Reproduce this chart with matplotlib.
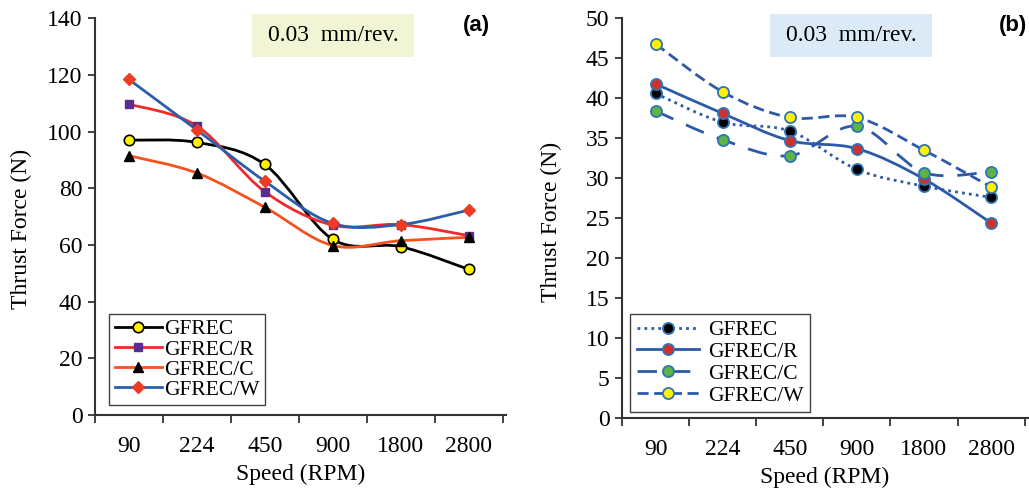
import numpy as np
import matplotlib
matplotlib.use("Agg")
import matplotlib.pyplot as plt
from matplotlib.path import Path
from matplotlib.patches import PathPatch, Rectangle
from matplotlib.lines import Line2D

plt.rcParams["font.family"] = ["Liberation Serif", "DejaVu Serif"]

speeds = ["90", "224", "450", "900", "1800", "2800"]
labels = ["GFREC", "GFREC/R", "GFREC/C", "GFREC/W"]

# panel (a) thrust force values
a_gfrec = [97.0, 96.2, 88.4, 62.0, 59.4, 51.4]
a_gfrec_r = [109.7, 102.0, 78.8, 67.0, 67.2, 63.3]
a_gfrec_c = [91.5, 85.4, 73.3, 59.8, 61.5, 62.7]
a_gfrec_w = [118.4, 100.6, 82.5, 67.6, 67.2, 72.3]

# panel (b) thrust force values
b_gfrec = [40.6, 37.0, 35.9, 31.1, 29.0, 27.6]
b_gfrec_r = [41.8, 38.1, 34.7, 33.7, 29.9, 24.4]
b_gfrec_c = [38.4, 34.8, 32.8, 36.5, 30.7, 30.8]
b_gfrec_w = [46.8, 40.8, 37.6, 37.6, 33.5, 28.9]

FS = 17
LFS = 15.5


def smooth_path(x, y):
    # Excel-style smoothed line: cubic bezier through the points
    pts = np.column_stack([x, y]).astype(float)
    n = len(pts)
    verts = [pts[0]]
    codes = [Path.MOVETO]
    for i in range(n - 1):
        p0 = pts[i - 1] if i > 0 else pts[i]
        p1 = pts[i]
        p2 = pts[i + 1]
        p3 = pts[i + 2] if i + 2 < n else pts[i + 1]
        c1 = p1 + (p2 - p0) / 6.0
        c2 = p2 - (p3 - p1) / 6.0
        verts += [c1, c2, p2]
        codes += [Path.CURVE4] * 3
    return Path(verts, codes)


def draw_series(ax, y, color, ls, lw, marker, mfc, mec, ms, mew):
    x = np.arange(len(y)) + 0.5
    patch = PathPatch(smooth_path(x, y), facecolor="none", edgecolor=color,
                      linewidth=lw, linestyle=ls, capstyle="butt", zorder=2)
    ax.add_patch(patch)
    ax.plot(x, y, linestyle="none", marker=marker, markerfacecolor=mfc,
            markeredgecolor=mec, markersize=ms, markeredgewidth=mew, zorder=3)
    return Line2D([], [], color=color, linestyle=ls, linewidth=lw, marker=marker,
                  markerfacecolor=mfc, markeredgecolor=mec, markersize=ms,
                  markeredgewidth=mew)


def style_axes(ax, ymax, ystep):
    n = len(speeds)
    ax.set_xlim(0, n + 0.05)
    ax.set_ylim(0, ymax)
    ax.set_yticks(np.arange(0, ymax + 0.1, ystep))
    ax.set_xticks(np.arange(0, n + 1))
    ax.set_xticklabels([])
    ax.set_xticks(np.arange(n) + 0.5, minor=True)
    ax.set_xticklabels(speeds, minor=True)
    ax.tick_params(axis="x", which="major", direction="out", length=6,
                   width=1.3, color="#333333")
    ax.tick_params(axis="x", which="minor", length=0, pad=15, labelsize=FS)
    ax.tick_params(axis="y", direction="out", length=5, width=1.3,
                   color="#333333", pad=4, labelsize=FS)
    for s in ["top", "right"]:
        ax.spines[s].set_visible(False)
    for s in ["left", "bottom"]:
        ax.spines[s].set_linewidth(1.5)
        ax.spines[s].set_color("#333333")
    ax.set_xlabel("Speed (RPM)", fontsize=FS)
    ax.set_ylabel("Thrust Force (N)", fontsize=FS)
    ax.xaxis.set_label_coords(0.5, -0.122)


def note_box(ax, x0, x1, color):
    ax.add_patch(Rectangle((x0, 0.902), x1 - x0, 0.108, transform=ax.transAxes,
                           facecolor=color, edgecolor="none", clip_on=False,
                           zorder=1))
    ax.text((x0 + x1) / 2, 0.956, "0.03  mm/rev.", transform=ax.transAxes,
            ha="center", va="center", fontsize=FS, zorder=4)


fig = plt.figure(figsize=(10.29, 4.91), dpi=100)

# ---- panel (a)
ax1 = fig.add_axes([0.0923, 0.1548, 0.3994, 0.808])
style_axes(ax1, 140, 20)
h1 = [
    draw_series(ax1, a_gfrec, "black", "-", 2.0, "o", "#FFF200", "black", 7.5, 1.2),
    draw_series(ax1, a_gfrec_r, "#EE2A2A", "-", 2.0, "s", "#5B2D90", "#5B2D90", 6, 1),
    draw_series(ax1, a_gfrec_c, "#F4521E", "-", 2.0, "^", "black", "black", 7, 1),
    draw_series(ax1, a_gfrec_w, "#2B5DAA", "-", 2.0, "D", "#EE3B24", "#EE3B24", 6, 1),
]
ax1.yaxis.set_label_coords(-0.153, 0.47)
note_box(ax1, 0.382, 0.776, "#F2F4D6")
leg1 = ax1.legend(h1, labels, loc="lower left", bbox_to_anchor=(0.035, 0.025),
                  fontsize=LFS, handlelength=2.2, handletextpad=0.1,
                  labelspacing=0.0, borderpad=0.25, fancybox=False,
                  framealpha=1, edgecolor="#404040", borderaxespad=0)
leg1.get_frame().set_linewidth(1.0)

# ---- panel (b)
ax2 = fig.add_axes([0.6045, 0.1487, 0.3945, 0.814])
style_axes(ax2, 50, 5)
blue = "#2C5AA8"
edge = "#2E75B6"
h2 = [
    draw_series(ax2, b_gfrec, blue, (0, (1, 1.5)), 2.0, "o", "black", edge, 8, 1.3),
    draw_series(ax2, b_gfrec_r, blue, "-", 2.0, "o", "#D0312D", edge, 8, 1.3),
    draw_series(ax2, b_gfrec_c, blue, (0, (7, 5)), 2.0, "o", "#5DB346", edge, 8, 1.3),
    draw_series(ax2, b_gfrec_w, blue, (0, (4, 2)), 2.0, "o", "#FFF200", edge, 8, 1.3),
]
ax2.yaxis.set_label_coords(-0.148, 0.49)
note_box(ax2, 0.365, 0.764, "#DCE9F6")
leg2 = ax2.legend(h2, labels, loc="lower left", bbox_to_anchor=(0.02, 0.015),
                  fontsize=LFS, handlelength=2.9, handletextpad=0.4,
                  labelspacing=0.08, borderpad=0.3, fancybox=False,
                  framealpha=1, edgecolor="#404040", borderaxespad=0)
leg2.get_frame().set_linewidth(1.0)

fig.text(476 / 1029, 1 - 25 / 491, "(a)", family="Liberation Sans",
         fontweight="bold", fontsize=16, ha="center", va="center")
fig.text(1013 / 1029, 1 - 25 / 491, "(b)", family="Liberation Sans",
         fontweight="bold", fontsize=16, ha="center", va="center")

fig.savefig("out.png", dpi=100)
